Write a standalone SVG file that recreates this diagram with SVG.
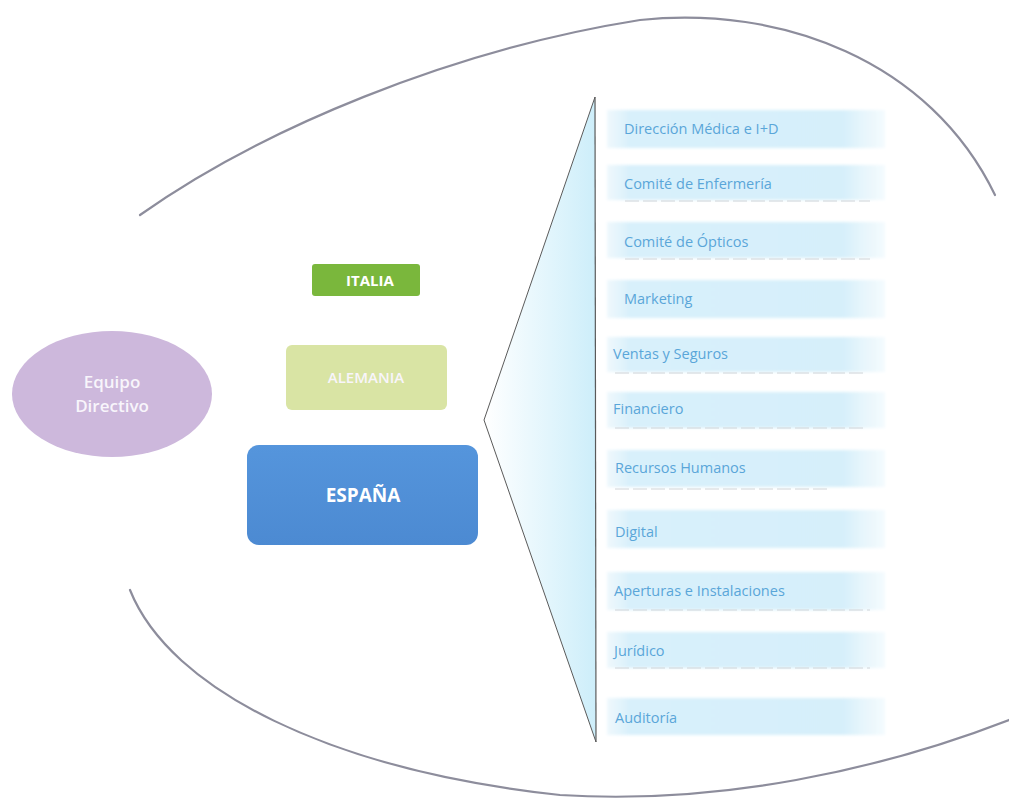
<svg xmlns="http://www.w3.org/2000/svg" width="1009" height="802" viewBox="0 0 1009 802">
<defs>
<linearGradient id="bar" x1="0" y1="0" x2="1" y2="0">
<stop offset="0" stop-color="#e3f3fb" stop-opacity="0.6"/>
<stop offset="0.08" stop-color="#d8f0fb"/>
<stop offset="0.85" stop-color="#d6effa"/>
<stop offset="1" stop-color="#e8f6fc" stop-opacity="0.5"/>
</linearGradient>
<linearGradient id="tri" x1="0" y1="0" x2="1" y2="0">
<stop offset="0" stop-color="#ffffff"/>
<stop offset="1" stop-color="#cdeefa"/>
</linearGradient>
<linearGradient id="esp" x1="0" y1="0" x2="0" y2="1">
<stop offset="0" stop-color="#5595dc"/>
<stop offset="1" stop-color="#4c8ad2"/>
</linearGradient>
<filter id="soft" x="-10%" y="-30%" width="120%" height="160%">
<feGaussianBlur stdDeviation="1.5"/>
</filter>
</defs>
<style>
.lbl{font-family:"Open Sans","Liberation Sans",sans-serif;font-size:14.5px;fill:#5aa6d9}
.bar{fill:url(#bar)}
.ul{stroke:#d0d4d8;stroke-width:1;stroke-dasharray:14 4}
.wb{font-family:"Open Sans","Liberation Sans",sans-serif;fill:#ffffff;text-anchor:middle;font-weight:bold}
.wn{font-family:"Open Sans","Liberation Sans",sans-serif;fill:#f8f5fb;text-anchor:middle;font-weight:600}
.arc{fill:none;stroke:#8d8d9c;stroke-width:2.2;stroke-linecap:round}
</style>
<rect width="1009" height="802" fill="#ffffff"/>
<g id="outline">
<path class="arc" d="M140,215 C260,130 450,50 640,20 C780,5 930,60 995,195"/>
<path class="arc" d="M130,590 C170,690 330,770 560,795 C720,805 880,770 1009,720"/>
</g>
<g id="connectors">
<polygon points="595,97 484,420 596,742" fill="url(#tri)" stroke="none"/>
<polyline points="595,97 484,420 596,742" fill="none" stroke="#5a5a5a" stroke-width="1"/>
<line x1="595" y1="97" x2="596" y2="742" stroke="#5a5a5a" stroke-width="1.2"/>
</g>
<g id="equipo">
<ellipse cx="112" cy="394" rx="100" ry="63" fill="#cdb8dc"/>
<text class="wn" x="112" y="388" font-size="17">Equipo</text>
<text class="wn" x="112" y="412" font-size="17">Directivo</text>
</g>
<g id="italia">
<rect x="312" y="264" width="108" height="32" rx="3" fill="#7ab73c"/>
<text class="wb" x="370" y="286" font-size="15">ITALIA</text>
</g>
<g id="alemania">
<rect x="286" y="345" width="161" height="65" rx="6" fill="#d9e4a4"/>
<text class="wn" x="366" y="383" font-size="15">ALEMANIA</text>
</g>
<g id="espana">
<rect x="247" y="445" width="231" height="100" rx="12" fill="url(#esp)"/>
<text class="wb" x="363" y="502" font-size="19">ESPAÑA</text>
</g>
<g id="r1"><rect class="bar" x="607" y="110" width="278" height="38" filter="url(#soft)"/><text class="lbl" x="624" y="134">Dirección Médica e I+D</text></g>
<g id="r2"><rect class="bar" x="607" y="165" width="278" height="35" filter="url(#soft)"/><line class="ul" x1="625" y1="201" x2="870" y2="201"/><text class="lbl" x="624" y="189">Comité de Enfermería</text></g>
<g id="r3"><rect class="bar" x="607" y="222" width="278" height="36" filter="url(#soft)"/><line class="ul" x1="625" y1="259" x2="870" y2="259"/><text class="lbl" x="624" y="247">Comité de Ópticos</text></g>
<g id="r4"><rect class="bar" x="607" y="280" width="278" height="38" filter="url(#soft)"/><text class="lbl" x="624" y="304">Marketing</text></g>
<g id="r5"><rect class="bar" x="607" y="337" width="278" height="35" filter="url(#soft)"/><line class="ul" x1="615" y1="373" x2="865" y2="373"/><text class="lbl" x="613" y="359">Ventas y Seguros</text></g>
<g id="r6"><rect class="bar" x="607" y="392" width="278" height="36" filter="url(#soft)"/><line class="ul" x1="615" y1="428" x2="865" y2="428"/><text class="lbl" x="613" y="414">Financiero</text></g>
<g id="r7"><rect class="bar" x="607" y="450" width="278" height="37" filter="url(#soft)"/><line class="ul" x1="615" y1="489" x2="830" y2="489"/><text class="lbl" x="615" y="473">Recursos Humanos</text></g>
<g id="r8"><rect class="bar" x="607" y="510" width="278" height="38" filter="url(#soft)"/><text class="lbl" x="615" y="537">Digital</text></g>
<g id="r9"><rect class="bar" x="607" y="572" width="278" height="38" filter="url(#soft)"/><line class="ul" x1="615" y1="610" x2="870" y2="610"/><text class="lbl" x="614" y="596">Aperturas e Instalaciones</text></g>
<g id="r10"><rect class="bar" x="607" y="632" width="278" height="36" filter="url(#soft)"/><line class="ul" x1="615" y1="668" x2="870" y2="668"/><text class="lbl" x="614" y="656">Jurídico</text></g>
<g id="r11"><rect class="bar" x="607" y="698" width="278" height="37" filter="url(#soft)"/><text class="lbl" x="615" y="723">Auditoría</text></g>
</svg>
